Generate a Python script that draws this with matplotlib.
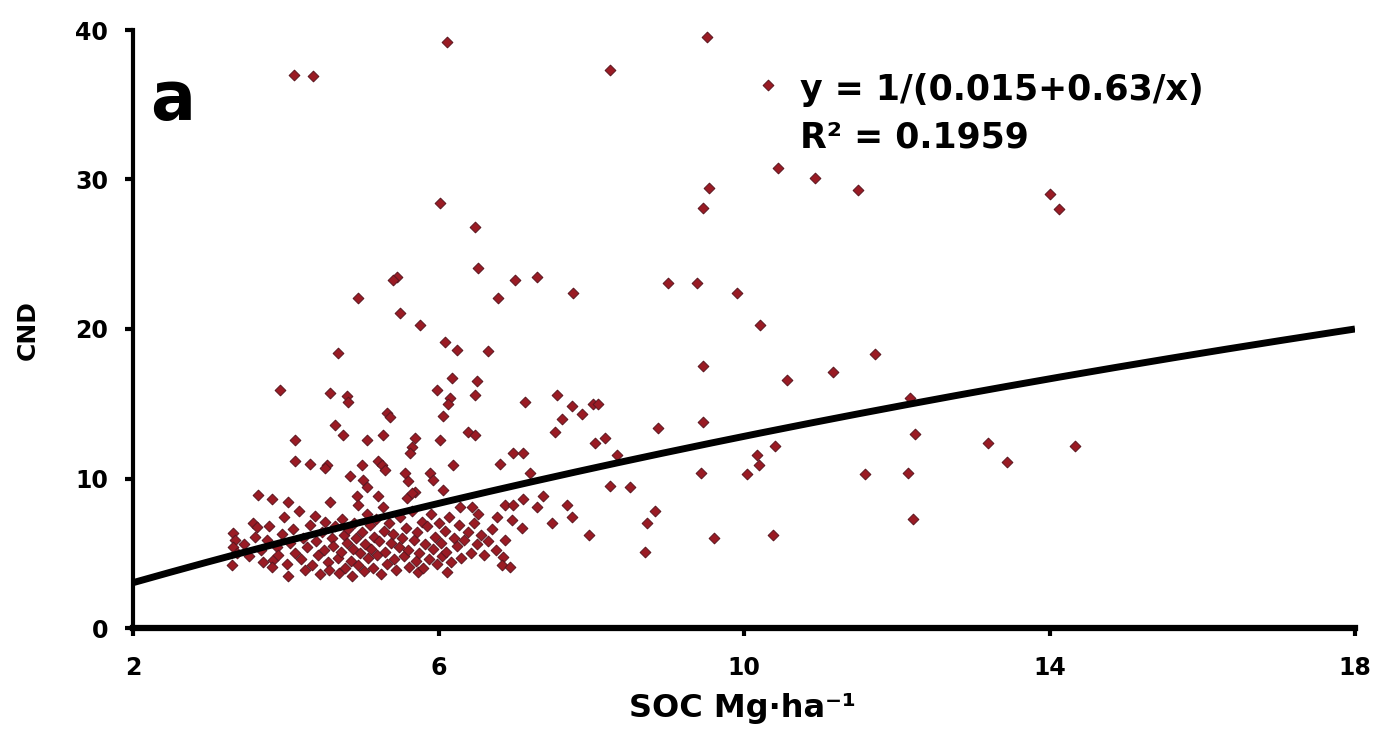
import matplotlib
matplotlib.use("Agg")
import matplotlib.pyplot as plt
import numpy as np

plt.rcParams['font.family'] = ['DejaVu Sans']

# Sparse / outer points (SOC, CND)
soc_outer = [4.11, 4.36, 6.11, 6.02, 6.48, 6.52, 5.46, 5.40, 7.00, 7.29, 4.95, 6.78, 7.76, 5.50, 5.76,
             9.52, 8.25, 10.31, 10.45, 10.93, 11.49, 14.01, 14.12, 9.54, 9.46, 9.00, 9.38, 9.91, 10.21,
             13.44, 14.33, 9.46, 11.72, 11.17, 10.56, 7.55, 7.75, 7.88, 8.02, 8.09, 7.62, 7.53, 8.05, 8.18,
             8.87, 9.46, 12.24, 13.19, 10.40, 10.17, 10.20, 10.04, 9.44, 11.58, 12.15, 12.21, 8.25, 8.51,
             7.68, 7.75, 7.49, 8.83, 8.73, 7.97, 8.70, 9.61, 10.38, 12.17, 8.34, 6.08, 6.24, 6.65, 4.68,
             3.92, 4.58, 4.80, 4.82, 5.98, 6.18, 6.50, 6.48, 6.15, 6.12, 7.13, 6.06, 5.33, 5.36, 4.64, 4.75,
             4.12, 5.06, 5.27, 5.69, 5.65, 5.63, 6.02, 6.39, 6.48, 4.12, 4.32, 4.54, 4.51, 5.00, 5.21, 5.26,
             5.30, 6.19, 6.81, 6.98, 7.11, 7.20, 4.84, 5.01, 5.06, 5.56, 5.60, 5.69, 5.89, 5.93, 6.06, 3.64,
             3.82, 4.03, 4.58, 4.93, 4.95, 5.21, 5.27, 5.59, 5.65, 6.28, 6.44, 6.52, 6.77, 6.87, 6.98, 7.11,
             7.09, 6.96, 7.29, 7.37, 6.87, 6.84, 6.83, 6.94, 5.73, 6.11, 4.03, 3.30, 3.31, 3.34, 3.31, 3.36,
             3.57, 3.62, 3.83, 3.82]
cnd_outer = [37.0, 36.9, 39.2, 28.4, 26.8, 24.1, 23.5, 23.3, 23.3, 23.5, 22.1, 22.1, 22.4, 21.1, 20.3,
             39.5, 37.3, 36.3, 30.8, 30.1, 29.3, 29.0, 28.0, 29.4, 28.1, 23.1, 23.1, 22.4, 20.3,
             11.1, 12.2, 17.5, 18.3, 17.1, 16.6, 15.6, 14.85, 14.3, 15.0, 15.0, 14.0, 13.1, 12.4, 12.7,
             13.4, 13.8, 13.0, 12.4, 12.2, 11.6, 10.9, 10.3, 10.4, 10.3, 10.4, 7.3, 9.5, 9.4,
             8.2, 7.4, 7.0, 7.8, 7.0, 6.2, 5.1, 6.0, 6.2, 15.4, 11.6, 19.1, 18.6, 18.5, 18.4,
             15.9, 15.7, 15.5, 15.1, 15.9, 16.7, 16.5, 15.6, 15.4, 15.0, 15.1, 14.2, 14.4, 14.1, 13.6, 12.9,
             12.6, 12.6, 12.9, 12.7, 12.1, 11.7, 12.6, 13.1, 12.9, 11.2, 11.0, 10.9, 10.7, 10.9, 11.2, 10.9,
             10.6, 10.9, 11.0, 11.7, 11.7, 10.4, 10.2, 9.9, 9.4, 10.4, 9.8, 9.1, 10.4, 9.9, 9.2, 8.9,
             8.6, 8.4, 8.4, 8.8, 8.2, 8.8, 8.1, 8.7, 9.0, 8.1, 8.1, 7.6, 7.4, 8.2, 8.2, 8.6,
             6.7, 7.2, 8.1, 8.8, 5.9, 4.75, 4.2, 4.1, 3.75, 3.75, 3.5, 4.2, 6.35, 5.9, 5.4, 5.0,
             7.0, 6.75, 4.55, 4.1]

# Dense cluster points (SOC, CND)
soc_dense = [3.45, 3.52, 3.60, 3.68, 3.70, 3.75, 3.78, 3.88, 3.90, 3.95, 3.98, 4.02, 4.05, 4.10, 4.12,
             4.18, 4.20, 4.22, 4.25, 4.28, 4.32, 4.35, 4.38, 4.40, 4.42, 4.45, 4.47, 4.50, 4.52, 4.55,
             4.57, 4.60, 4.62, 4.65, 4.68, 4.70, 4.72, 4.74, 4.76, 4.78, 4.80, 4.82, 4.85, 4.87, 4.88,
             4.90, 4.92, 4.95, 4.97, 5.00, 5.02, 5.04, 5.06, 5.08, 5.10, 5.12, 5.14, 5.16, 5.18, 5.20,
             5.22, 5.25, 5.28, 5.30, 5.32, 5.35, 5.38, 5.40, 5.42, 5.45, 5.48, 5.50, 5.52, 5.55, 5.58,
             5.60, 5.62, 5.65, 5.68, 5.70, 5.72, 5.75, 5.78, 5.80, 5.82, 5.85, 5.88, 5.90, 5.93, 5.95,
             5.98, 6.00, 6.03, 6.05, 6.08, 6.10, 6.14, 6.17, 6.20, 6.24, 6.27, 6.30, 6.34, 6.38, 6.42,
             6.46, 6.50, 6.55, 6.60, 6.65, 6.70, 6.75]
cnd_dense = [5.6, 4.8, 6.1, 5.2, 4.4, 5.9, 6.8, 5.4, 4.9, 6.3, 7.4, 4.3, 5.7, 6.6, 5.0,
             7.8, 4.6, 6.0, 3.9, 5.4, 6.9, 4.2, 7.5, 5.8, 4.9, 3.6, 6.4, 5.2, 7.1, 4.4,
             3.9, 6.0, 5.5, 6.8, 4.7, 3.7, 5.1, 7.3, 6.2, 4.0, 5.7, 6.6, 4.5, 3.5, 5.3,
             7.0, 6.0, 4.2, 5.0, 6.4, 3.8, 5.6, 7.6, 4.7, 6.9, 5.3, 4.0, 6.1, 7.3, 4.9,
             5.8, 3.6, 6.5, 5.1, 4.3, 7.0, 5.7, 6.3, 4.6, 3.9, 5.4, 7.4, 6.0, 4.8, 6.7,
             5.2, 4.1, 7.8, 5.9, 4.5, 6.4, 5.0, 7.1, 4.0, 5.6, 6.8, 4.6, 7.6, 5.3, 6.1,
             4.3, 7.0, 5.7, 4.8, 6.5, 5.1, 7.4, 4.4, 6.0, 5.5, 6.9, 4.7, 5.9, 6.4, 5.0,
             7.0, 5.6, 6.2, 4.9, 5.8, 6.6, 5.2]

# Fitted model y = 1/(a + b/x)
fit_a = 0.015
fit_b = 0.63
x_ticks = [2, 6, 10, 14, 18]
y_ticks = [0, 10, 20, 30, 40]

W, H = 1377, 732
fig = plt.figure(figsize=(W / 100, H / 100), dpi=100)
ax = fig.add_axes([133 / W, 1 - 628 / H, (1355 - 133) / W, (628 - 30) / H])

pt_face = '#9a1b24'
pt_edge = '#5a1620'
ax.scatter(soc_outer, cnd_outer, marker='D', s=30, color=pt_face, edgecolors=pt_edge,
           linewidths=0.7, zorder=2)
ax.scatter(soc_dense, cnd_dense, marker='D', s=30, color=pt_face, edgecolors=pt_edge,
           linewidths=0.7, zorder=2)

xf = np.linspace(2, 18, 200)
ax.plot(xf, 1 / (fit_a + fit_b / xf), color='black', lw=5, zorder=3, solid_capstyle='butt')

ax.set_xlim(2, 18)
ax.set_ylim(0, 40)
ax.set_xticks(x_ticks)
ax.set_yticks(y_ticks)
ax.set_xticklabels([str(v) for v in x_ticks], fontsize=17, fontweight='bold')
ax.set_yticklabels([str(v) for v in y_ticks], fontsize=17, fontweight='bold')
for s in ['top', 'right']:
    ax.spines[s].set_visible(False)
ax.spines['left'].set_linewidth(3)
ax.spines['bottom'].set_linewidth(4.5)
ax.tick_params(axis='both', direction='out', length=6, width=3, colors='black')
ax.tick_params(axis='x', pad=14)
ax.tick_params(axis='y', pad=12)

fig.text(28 / W, 1 - 330 / H, 'CND', rotation=90, ha='center', va='center',
         fontsize=18, fontweight='bold')
fig.text(742 / W, 1 - 708 / H, 'SOC Mg·ha⁻¹', ha='center', va='center',
         fontsize=23, fontweight='bold')
fig.text(150 / W, 1 - 101 / H, 'a', ha='left', va='center', fontsize=48, fontweight='bold')
fig.text(800 / W, 1 - 90 / H, 'y = 1/(0.015+0.63/x)', ha='left', va='center',
         fontsize=25, fontweight='bold')
fig.text(800 / W, 1 - 138 / H, 'R² = 0.1959', ha='left', va='center',
         fontsize=25, fontweight='bold')

fig.savefig('out.png', dpi=100, facecolor='white')
